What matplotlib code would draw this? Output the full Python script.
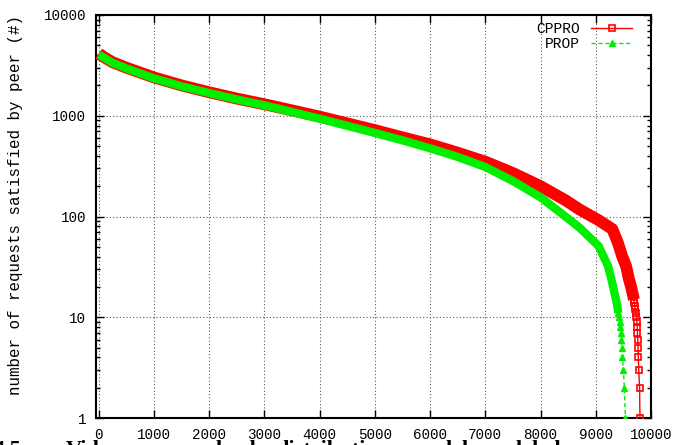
import matplotlib.pyplot as plt
from matplotlib.lines import Line2D

# peers sorted by number of satisfied requests
cppro_x = [0, 100, 250, 500, 1000, 1500, 2000, 2500, 3000, 3500, 4000, 4500,
           5000, 5500, 6000, 6500, 7000, 7500, 8000, 8450, 8700, 9050, 9300,
           9400, 9480, 9550, 9600, 9640, 9670, 9690]
cppro_y = [4150, 3800, 3400, 3000, 2400, 2000, 1710, 1480, 1300, 1130, 980, 840,
           720, 610, 520, 430, 350, 270, 200, 145, 118, 92, 75,
           55, 40, 32, 24, 20, 17, 15]
# last peers, where single markers are visible
cppro_tail_x = [9690, 9697, 9705, 9715, 9725, 9735, 9745, 9750, 9755, 9760, 9765, 9770, 9778, 9793, 9800]
cppro_tail_y = [15, 14, 13, 12, 11, 10, 9, 8, 7, 6, 5, 4, 3, 2, 1]

prop_x = [0, 100, 250, 500, 1000, 1500, 2000, 2500, 3000, 3500, 4000, 4500,
          5000, 5500, 6000, 6500, 7000, 7500, 8000, 8450, 8700, 9050, 9225,
          9315, 9390, 9408]
prop_y = [4050, 3750, 3350, 2950, 2350, 1960, 1680, 1450, 1270, 1090, 935, 795,
          675, 570, 475, 390, 310, 225, 155, 100, 78, 51, 32,
          20, 13, 11]
prop_tail_x = [9408, 9418, 9430, 9440, 9450, 9465, 9475, 9483, 9500, 9517, 9537]
prop_tail_y = [11, 10, 9, 8, 7, 6, 5, 4, 3, 2, 1]

# words of the caption below, only their tops show (x in pixels)
caption_words = ['4.5', 'Video', 'load', 'distribution', 'model', 'label']
caption_px = [-6, 66, 216, 276, 410, 516]

mono = 'Liberation Mono'
red = '#ff0000'
green = '#00ee00'

fig = plt.figure(figsize=(6.76, 4.45), dpi=100)
ax = fig.add_axes([96/676, 27/445, 555/676, 403/445])

# dense part: markers merge into a thick band
ax.plot(cppro_x, cppro_y, color=red, lw=8.5, solid_capstyle='butt', zorder=3)
ax.plot(prop_x, prop_y, color=green, lw=6, solid_capstyle='butt', zorder=4)

ax.plot(cppro_tail_x, cppro_tail_y, color=red, lw=1, ls='-', marker='s',
        ms=5, mfc='none', mec=red, mew=1.2, zorder=3)
ax.plot(prop_tail_x, prop_tail_y, color=green, lw=1, ls=(0, (3, 2)), marker='^',
        ms=5, mfc=green, mec=green, zorder=4)

ax.set_yscale('log')
ax.set_xlim(-50, 10000)
ax.set_ylim(1, 10000)
ax.set_xticks(range(0, 10001, 1000))
ax.set_yticks([1, 10, 100, 1000, 10000])
ax.set_yticklabels(['1', '10', '100', '1000', '10000'])

ax.grid(True, which='major', color='0.35', ls=(0, (1, 2)), lw=0.8)
ax.tick_params(which='major', direction='in', length=6, width=1, top=True, right=True,
               labelsize=10.3, pad=7)
ax.tick_params(which='minor', direction='in', length=3, width=1, top=False, right=True)
ax.tick_params(axis='x', which='minor', bottom=False)
for lab in ax.get_xticklabels() + ax.get_yticklabels():
    lab.set_family(mono)
for s in ax.spines.values():
    s.set_linewidth(1.5)

ax.set_ylabel('number of requests satisfied by peer (#)', family=mono, fontsize=11.4)
ax.yaxis.set_label_coords(-73/555, (418 - 205) / 403)

handles = [Line2D([], [], color=red, lw=1, marker='s', ms=5, mfc='none', mew=1.2),
           Line2D([], [], color=green, lw=1, ls=(0, (3, 2)), marker='^', ms=5)]
fig.legend(handles, ['CPPRO', 'PROP'], loc='upper right',
           bbox_to_anchor=(632/676, 1 - 22/445), frameon=False, markerfirst=False,
           handlelength=2.8, handletextpad=0.75, labelspacing=0.1,
           borderpad=0, borderaxespad=0, prop={'family': mono, 'size': 10.5})

# caption of the next section, cut by the picture edge
for word, px in zip(caption_words, caption_px):
    fig.text(px / 676, -10 / 445, word, family='Liberation Serif',
             fontweight='bold', fontsize=16, va='baseline')

fig.savefig('out.png', dpi=100)
